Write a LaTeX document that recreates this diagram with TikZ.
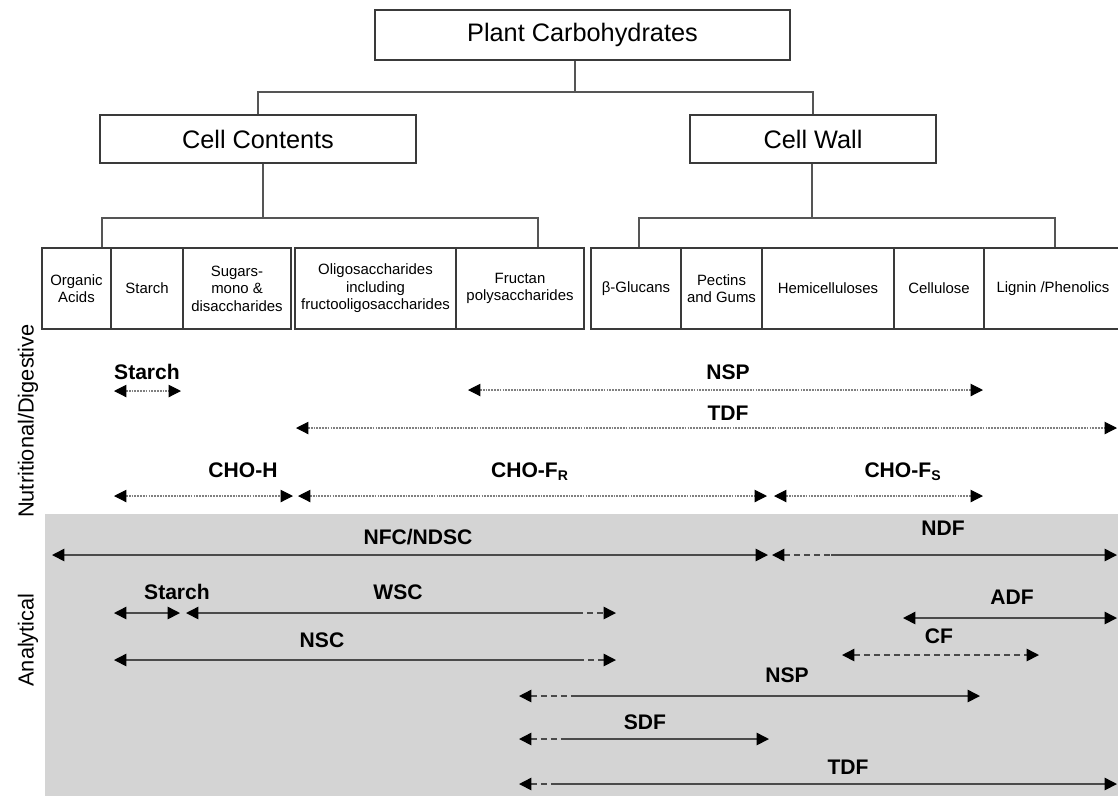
\documentclass[tikz,border=0pt]{standalone}
\usepackage{fontspec}
\setmainfont{Liberation Sans}
\usetikzlibrary{arrows.meta}
\definecolor{anabg}{HTML}{D4D4D4}
\definecolor{boxline}{HTML}{3A3A3A}
\definecolor{treeline}{HTML}{555555}
\definecolor{dotline}{HTML}{808080}
\definecolor{anline}{HTML}{4A4A4A}
\begin{document}
\begin{tikzpicture}[x=0.02cm, y=-0.02cm,
    >={Triangle[length=7pt,width=7pt,color=black]},
    topbox/.style={draw=boxline, line width=0.8pt, inner sep=0pt, minimum height=0.96cm, font=\fontsize{14.4}{17}\selectfont},
    cellbox/.style={draw=boxline, line width=0.8pt, inner sep=0pt, minimum height=1.62cm, align=center, font=\fontsize{8.5}{10}\selectfont},
    tree/.style={draw=treeline, line width=0.7pt},
    lab/.style={font=\fontsize{12}{14}\selectfont\bfseries},
    side/.style={rotate=90, font=\fontsize{12.4}{15}\selectfont},
    nut/.style={<->, draw=dotline, line width=0.6pt, dash pattern=on 1pt off 0.6pt},
    anl/.style={draw=anline, line width=0.9pt},
    brk/.style={anl, dash pattern=on 3.4pt off 2.3pt}]
                \useasboundingbox (0,0) rectangle (1118,796);
                \fill[anabg] (45,514) rectangle (1118,796);

                % tree
                \node[topbox, minimum width=8.3cm, minimum height=1cm] (plant) at (582.5,35) {Plant Carbohydrates};
                \node[topbox, minimum width=6.32cm] (cont) at (258,139) {Cell Contents};
                \node[topbox, minimum width=4.92cm] (wall) at (813,139) {Cell Wall};

                \node[cellbox, minimum width=1.38cm] (orgacid) at (76.5,288.5) {Organic\\Acids};
                \node[cellbox, minimum width=1.44cm] (starch) at (147,288.5) {Starch};
                \node[cellbox, minimum width=2.16cm] (sugars) at (237,288.5) {Sugars-\\mono \&\\disaccharides};
                \node[cellbox, minimum width=3.22cm] (oligo) at (375.5,288.5) {Oligosaccharides\\including\\fructooligosaccharides};
                \node[cellbox, minimum width=2.56cm] (fructan) at (520,288.5) {Fructan\\polysaccharides};
                \node[cellbox, minimum width=1.80cm] (glucan) at (636,288.5) {β-Glucans};
                \node[cellbox, minimum width=1.62cm] (pectin) at (721.5,288.5) {Pectins\\and Gums};
                \node[cellbox, minimum width=2.64cm] (hemi) at (828,288.5) {Hemicelluloses};
                \node[cellbox, minimum width=1.80cm] (cellul) at (939,288.5) {Cellulose};
                \node[cellbox, minimum width=2.76cm] (lignin) at (1053,288.5) {Lignin /Phenolics};

                \coordinate (j0) at (575,92);
                \coordinate (j1) at (263,218);
                \coordinate (j1l) at (102,218);
                \coordinate (j1r) at (538,218);
                \coordinate (j2) at (812,218);
                \coordinate (j2l) at (639,218);
                \coordinate (j2r) at (1055,218);

                \draw[tree] (plant.south -| j0) -- (j0);
                \draw[tree] (cont.north) |- (j0) -| (wall.north);
                \draw[tree] (cont.south -| j1) -- (j1);
                \draw[tree] (orgacid.north -| j1l) -- (j1l) -- (j1r) -- (fructan.north -| j1r);
                \draw[tree] (wall.south -| j2) -- (j2);
                \draw[tree] (glucan.north -| j2l) -- (j2l) -- (j2r) -- (lignin.north -| j2r);

                \node[side] (nutlab) at (28,421) {Nutritional/Digestive};
                \node[side] (analab) at (28,640) {Analytical};

                % nutritional / digestive
                \coordinate (nst1) at (114,391);
                \coordinate (nst2) at (181,391);
                \coordinate (nsp1) at (468,390);
                \coordinate (nsp2) at (983,390);
                \coordinate (tdf1) at (296,428);
                \coordinate (tdf2) at (1117,428);
                \coordinate (choh1) at (114,496);
                \coordinate (choh2) at (293,496);
                \coordinate (chor1) at (298,496);
                \coordinate (chor2) at (767,496);
                \coordinate (chos1) at (774,496);
                \coordinate (chos2) at (983,496);

                \node[lab] (lnst) at (147,372) {Starch};
                \node[lab] (lnsp) at (728,372) {NSP};
                \node[lab] (ltdf) at (728,413) {TDF};
                \node[lab] (lchoh) at (243,470) {CHO-H};
                \node[lab] (lchor) at (530,472) {CHO-F\textsubscript{R}};
                \node[lab] (lchos) at (903,472) {CHO-F\textsubscript{S}};

                \draw[nut] (nst1) -- (nst2);
                \draw[nut] (nsp1) -- (nsp2);
                \draw[nut] (tdf1) -- (tdf2);
                \draw[nut] (choh1) -- (choh2);
                \draw[nut] (chor1) -- (chor2);
                \draw[nut] (chos1) -- (chos2);

                % analytical
                \coordinate (nfc1) at (52,555);
                \coordinate (nfc2) at (768,555);
                \coordinate (ndf1) at (772,555);
                \coordinate (ndfb) at (831,555);
                \coordinate (ndf2) at (1117,555);
                \coordinate (ast1) at (114,613);
                \coordinate (ast2) at (180,613);
                \coordinate (wsc1) at (186,613);
                \coordinate (wscb) at (577,613);
                \coordinate (wsc2) at (616,613);
                \coordinate (nsc1) at (114,660);
                \coordinate (nscb) at (578,660);
                \coordinate (nsc2) at (616,660);
                \coordinate (adf1) at (903,618);
                \coordinate (adf2) at (1117,618);
                \coordinate (cf1) at (842,655);
                \coordinate (cf2) at (1039,655);
                \coordinate (ansp1) at (519,696);
                \coordinate (anspb) at (576,696);
                \coordinate (ansp2) at (980,696);
                \coordinate (sdf1) at (519,739);
                \coordinate (sdfb) at (567,739);
                \coordinate (sdf2) at (769,739);
                \coordinate (atdf1) at (519,784);
                \coordinate (atdfb) at (555,784);
                \coordinate (atdf2) at (1117,784);

                \node[lab] (lnfc) at (418,537) {NFC/NDSC};
                \node[lab] (lndf) at (943,528) {NDF};
                \node[lab] (last) at (177,592) {Starch};
                \node[lab] (lwsc) at (398,592) {WSC};
                \node[lab] (lnsc) at (322,640) {NSC};
                \node[lab] (ladf) at (1012,597) {ADF};
                \node[lab] (lcf) at (939,636) {CF};
                \node[lab] (lansp) at (787,675) {NSP};
                \node[lab] (lsdf) at (645,722) {SDF};
                \node[lab] (latdf) at (848,767) {TDF};

                \draw[anl, <->] (nfc1) -- (nfc2);
                \draw[brk, <-] (ndf1) -- (ndfb);
                \draw[anl, ->] (ndfb) -- (ndf2);
                \draw[anl, <->] (ast1) -- (ast2);
                \draw[anl, <-] (wsc1) -- (wscb);
                \draw[brk, ->] (wscb) -- (wsc2);
                \draw[anl, <-] (nsc1) -- (nscb);
                \draw[brk, ->] (nscb) -- (nsc2);
                \draw[anl, <->] (adf1) -- (adf2);
                \draw[brk, <->] (cf1) -- (cf2);
                \draw[brk, <-] (ansp1) -- (anspb);
                \draw[anl, ->] (anspb) -- (ansp2);
                \draw[brk, <-] (sdf1) -- (sdfb);
                \draw[anl, ->] (sdfb) -- (sdf2);
                \draw[brk, <-] (atdf1) -- (atdfb);
                \draw[anl, ->] (atdfb) -- (atdf2);
            \end{tikzpicture}
\end{document}
